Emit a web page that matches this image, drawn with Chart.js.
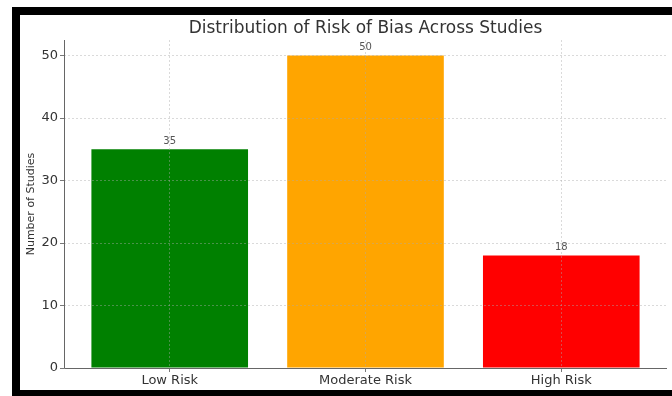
<!DOCTYPE html>
<html>
<head>
<meta charset="utf-8">
<script src="https://cdn.jsdelivr.net/npm/chart.js@4.4.1/dist/chart.umd.min.js"></script>
<style>
  html, body { margin: 0; padding: 0; background: #fff; overflow: hidden; }
  canvas { display: block; }
</style>
</head>
<body>
<canvas id="chart" width="672" height="396"></canvas>
<script>
// Risk-of-bias categories and the number of studies in each
const categories = ['Low Risk', 'Moderate Risk', 'High Risk'];
const studyCounts = [35, 50, 18];
const barColors = ['#008000', '#FFA500', '#FF0000'];
const yTicks = [0, 10, 20, 30, 40, 50];
const chartTitle = 'Distribution of Risk of Bias Across Studies';
const yAxisTitle = 'Number of Studies';

const FONT = "'DejaVu Sans', sans-serif";

// White page background, solid axis spines, title and the black border
const decorations = {
  id: 'decorations',
  beforeDraw(chart) {
    const { ctx, width, height } = chart;
    ctx.save();
    ctx.fillStyle = '#fff';
    ctx.fillRect(0, 0, width, height);
    ctx.restore();
  },
  afterDraw(chart) {
    const { ctx, chartArea: a, width, height } = chart;
    ctx.save();
    // left and bottom spines
    ctx.strokeStyle = '#666';
    ctx.lineWidth = 1;
    ctx.beginPath();
    ctx.moveTo(a.left + 0.5, a.top);
    ctx.lineTo(a.left + 0.5, a.bottom + 0.5);
    ctx.lineTo(a.right, a.bottom + 0.5);
    ctx.stroke();
    // title
    ctx.font = '17px ' + FONT;
    ctx.fillStyle = '#333';
    ctx.textAlign = 'center';
    ctx.textBaseline = 'middle';
    ctx.fillText(chartTitle, (a.left + a.right) / 2, a.top - 11);
    // border
    ctx.fillStyle = '#000';
    ctx.fillRect(12, 7, width - 12, 8);
    ctx.fillRect(12, 7, 8, height - 7);
    ctx.fillRect(12, height - 6, width - 12, 6);
    ctx.restore();
  }
};

// Count printed above each bar
const valueLabels = {
  id: 'valueLabels',
  afterDatasetsDraw(chart) {
    const { ctx } = chart;
    ctx.save();
    ctx.font = '10px ' + FONT;
    ctx.fillStyle = '#555';
    ctx.textAlign = 'center';
    ctx.textBaseline = 'bottom';
    chart.getDatasetMeta(0).data.forEach((bar, i) => {
      ctx.fillText(String(studyCounts[i]), bar.x, bar.y - 3);
    });
    ctx.restore();
  }
};

const gridStyle = {
  z: 1,
  color: 'rgba(170,170,170,0.55)',
  lineWidth: 0.8,
  tickLength: 4,
  tickColor: '#555',
  tickWidth: 0.8
};

new Chart(document.getElementById('chart'), {
  type: 'bar',
  data: {
    datasets: [{
      data: studyCounts.map((v, i) => ({ x: i, y: v })),
      backgroundColor: barColors,
      borderWidth: 0,
      barPercentage: 0.8,
      categoryPercentage: 1.0
    }]
  },
  options: {
    responsive: false,
    animation: false,
    layout: { padding: { left: 20, right: 5, top: 40, bottom: 6 } },
    plugins: { legend: { display: false }, tooltip: { enabled: false }, title: { display: false } },
    scales: {
      x: {
        type: 'linear',
        min: -0.54,
        max: 2.54,
        offset: false,
        afterBuildTicks(axis) { axis.ticks = categories.map((_, i) => ({ value: i })); },
        afterFit(axis) { axis.height = 22; },
        ticks: {
          callback: (v) => categories[v],
          font: { family: FONT, size: 13 },
          color: '#333',
          padding: 1,
          maxRotation: 0,
          autoSkip: false
        },
        grid: Object.assign({ offset: false }, gridStyle),
        border: { display: false, dash: [2, 2] }
      },
      y: {
        min: 0,
        max: 52.5,
        afterBuildTicks(axis) { axis.ticks = yTicks.map(v => ({ value: v })); },
        afterFit(axis) { axis.width = 44; },
        ticks: {
          font: { family: FONT, size: 13 },
          color: '#333',
          padding: 2
        },
        grid: Object.assign({}, gridStyle),
        border: { display: false, dash: [2, 2] },
        title: {
          display: true,
          text: yAxisTitle,
          font: { family: FONT, size: 11 },
          color: '#333',
          padding: { top: 5, bottom: 0 }
        }
      }
    }
  },
  plugins: [decorations, valueLabels]
});
</script>
</body>
</html>
